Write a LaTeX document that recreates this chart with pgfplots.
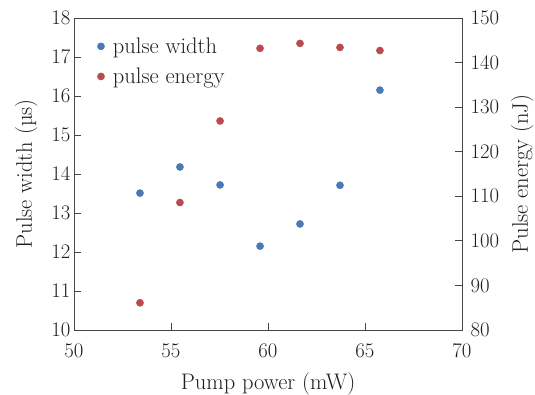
\documentclass[border=0pt]{standalone}
\usepackage{fontspec}
\usepackage{pgfplots}
\pgfplotsset{compat=1.18}
\usetikzlibrary{calc}
\definecolor{pblue}{RGB}{74,122,181}
\definecolor{pred}{RGB}{185,74,80}
\definecolor{axgray}{RGB}{70,70,70}
\pgfplotsset{dotlegend/.style={legend image code/.code={\path[draw=none,fill=none] (-0.1cm,0cm) -- (0.35cm,0cm); \draw[##1] plot coordinates {(0cm,0cm)};}}}
\begin{document}
\begin{tikzpicture}
\pgfplotsset{
  every axis/.append style={
    scale only axis, width=388pt, height=312pt,
    xmin=50, xmax=70,
    tick align=inside, major tick length=7pt,
    axis line style={axgray, line width=0.8pt},
    every tick/.style={axgray, line width=0.8pt},
    tick label style={font=\fontsize{21}{25}\selectfont, text=black!88},
    label style={font=\fontsize{22.5}{27}\selectfont, text=black!88},
  }
}
\begin{axis}[name=ax1,
  ymin=10, ymax=18, ytick={10,11,...,18},
  xtick={50,55,...,70},
  xtick pos=bottom, ytick pos=left,
  xticklabel style={yshift=-11pt},
  xlabel={Pump power (mW)},
  ylabel={Pulse width (µs)},
  xlabel style={yshift=-8pt},
  ylabel style={yshift=7pt},
  legend style={at={(0.052,0.95)}, anchor=north west, draw=none, fill=none,
    font=\fontsize{22.5}{27}\selectfont, text=black!88, row sep=9pt},
  legend cell align=left,
]
\addplot[only marks, mark=*, mark size=3.6pt, pblue, mark options={draw=none, fill=pblue}, dotlegend] coordinates {
(53.4,13.51) (55.46,14.18) (57.53,13.72) (59.59,12.15) (61.65,12.72) (63.71,13.71) (65.77,16.15)
};
\addlegendentry{pulse width}
\addlegendimage{only marks, mark=*, mark size=3.6pt, pred, mark options={draw=none, fill=pred}, dotlegend}
\addlegendentry{pulse energy}
\end{axis}
\begin{axis}[
  ymin=80, ymax=150, ytick={80,90,...,150},
  axis x line=none, axis y line*=right,
  yticklabel style={xshift=5pt},
  ylabel={Pulse energy (nJ)},
  ylabel style={yshift=-5pt},
]
\addplot[only marks, mark=*, mark size=3.6pt, pred, mark options={draw=none, fill=pred}] coordinates {
(53.4,86.1) (55.46,108.6) (57.53,126.9) (59.59,143.2) (61.65,144.3) (63.71,143.4) (65.77,142.7)
};
\end{axis}
\pgfresetboundingbox
\path[use as bounding box] ($(ax1.south west)+(-74pt,-65pt)$) rectangle ($(ax1.north east)+(73pt,18pt)$);
\end{tikzpicture}
\end{document}
